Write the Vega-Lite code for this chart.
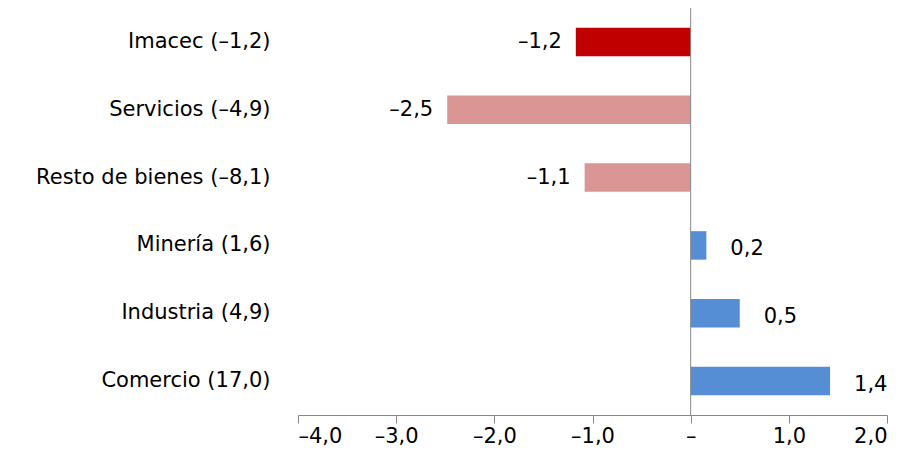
{
  "$schema": "https://vega.github.io/schema/vega-lite/v6.json",
  "autosize": "none",
  "padding": {"left": 298, "top": 8, "right": 25, "bottom": 55},
  "width": 589,
  "height": 407,
  "config": {"view": {"stroke": null}, "font": "DejaVu Sans"},
  "data": {
    "values": [
      {"cat": "Imacec (–1,2)", "v": -1.17, "lab": "–1,2", "grp": "a"},
      {"cat": "Servicios (–4,9)", "v": -2.48, "lab": "–2,5", "grp": "b"},
      {"cat": "Resto de bienes (–8,1)", "v": -1.08, "lab": "–1,1", "grp": "b"},
      {"cat": "Minería (1,6)", "v": 0.16, "lab": "0,2", "grp": "c"},
      {"cat": "Industria (4,9)", "v": 0.5, "lab": "0,5", "grp": "c"},
      {"cat": "Comercio (17,0)", "v": 1.42, "lab": "1,4", "grp": "c"}
    ]
  },
  "encoding": {
    "y": {
      "field": "cat", "type": "nominal", "sort": null, "title": null,
      "scale": {"paddingInner": 0.58, "paddingOuter": 0.29},
      "axis": {"domain": false, "ticks": false, "labelFontSize": 21, "labelPadding": 28, "labelLimit": 400, "labelColor": "#000"}
    }
  },
  "layer": [
    {
      "mark": {"type": "bar"},
      "encoding": {
        "x": {
          "field": "v", "type": "quantitative", "title": null,
          "scale": {"domain": [-4, 2], "nice": false},
          "axis": {
            "values": [-4, -3, -2, -1, 0, 1, 2], "grid": false,
            "labelFontSize": 21, "labelColor": "#000", "domainColor": "#888", "tickColor": "#888", "tickSize": 8,
            "labelExpr": "datum.value == 0 ? '–' : replace(replace(format(datum.value, '.1f'), '.', ','), /[-−]/, '–')"
          }
        },
        "color": {
          "field": "grp", "type": "nominal", "legend": null,
          "scale": {"domain": ["a", "b", "c"], "range": ["#C00000", "#D99694", "#558ED5"]}
        }
      }
    },
    {
      "mark": {"type": "rule", "color": "#888"},
      "data": {"values": [{"x": 0}]},
      "encoding": {"x": {"field": "x", "type": "quantitative"}, "y": null}
    },
    {
      "transform": [{"filter": "datum.v < 0"}],
      "mark": {"type": "text", "align": "right", "dx": -14, "fontSize": 21},
      "encoding": {"x": {"field": "v", "type": "quantitative"}, "text": {"field": "lab"}}
    },
    {
      "transform": [{"filter": "datum.v > 0"}],
      "mark": {"type": "text", "align": "left", "dx": 24, "dy": 4, "fontSize": 21},
      "encoding": {"x": {"field": "v", "type": "quantitative"}, "text": {"field": "lab"}}
    }
  ]
}
